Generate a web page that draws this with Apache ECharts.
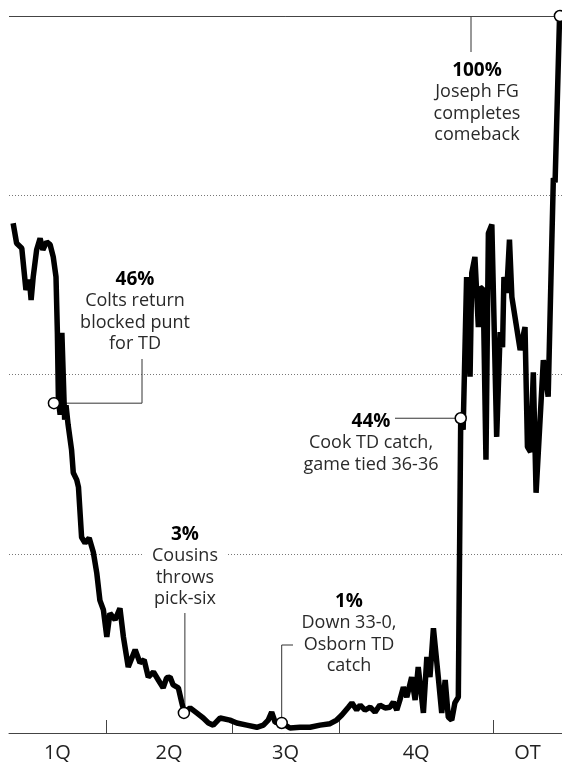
<!DOCTYPE html>
<html><head><meta charset="utf-8">
<script src="https://cdn.jsdelivr.net/npm/echarts@6/dist/echarts.min.js"></script>
<style>html,body{margin:0;padding:0;background:#fff}#c{width:562px;height:764px}</style>
</head><body><div id="c"></div>
<script>
// game progress (play index along the game) and Vikings win probability (%)
const progress = [1.2,2.2,3.7,4.9,5.9,6.4,7.0,8.0,9.0,9.8,10.9,11.9,12.8,13.6,14.0,14.3,14.8,15.3,16.1,16.5,17.1,18.1,18.6,19.6,20.1,21.0,22.0,23.2,24.4,25.4,26.3,27.3,28.3,29.2,30.7,32.1,33.1,34.5,36.5,37.9,39.1,40.3,41.8,43.2,44.6,45.6,46.6,47.5,49.0,50.0,50.7,52.4,54.3,56.2,57.7,59.1,61.1,63.9,65.9,68.8,71.7,73.6,75.0,76.0,77.0,78.9,81.3,84.2,87.1,90.0,92.9,94.8,96.3,98.2,99.2,100.6,101.6,103.0,104.5,105.9,107.3,108.8,110.2,111.2,112.2,113.1,114.1,115.1,116.5,117.5,118.4,119.9,120.9,121.8,122.8,124.2,125.2,126.2,127.1,128.1,129.0,130.0,130.7,131.4,132.4,133.4,133.9,134.8,135.8,136.3,137.2,138.0,138.7,139.7,141.1,142.1,142.8,143.2,144.0,144.8,145.5,147.9,149.3,150.0,150.9,151.7,152.5,154.6,156.0,157.0,157.5,158.0,159.3];
const winProb = [71.1,68.3,67.6,61.8,63.2,60.4,63.6,67.4,69.0,67.4,68.5,68.1,66.4,63.6,55.8,46.4,44.4,55.8,43.7,45.7,43.0,39.5,36.3,35.3,34.3,27.3,26.5,27.2,25.2,22.3,18.5,17.2,13.4,16.7,15.8,17.4,13.4,9.2,11.6,9.8,10.2,7.8,8.5,7.4,6.3,7.7,7.8,6.7,6.3,4.2,2.9,3.5,2.8,2.1,1.4,1.1,2.1,1.8,1.4,1.1,0.8,1.1,1.8,2.9,1.5,1.4,0.7,0.8,0.8,1.1,1.3,1.8,2.5,3.6,4.2,3.2,3.9,3.2,3.6,2.9,3.9,3.5,3.6,4.3,3.2,4.6,6.4,5.0,7.8,4.6,9.2,2.8,10.6,7.8,14.6,7.8,2.8,7.4,2.2,1.8,4.2,5.0,43.9,42.3,63.6,49.7,64.2,66.4,56.6,62.2,61.8,38.1,69.7,70.9,41.3,55.9,53.8,63.6,61.4,68.8,60.8,53.4,56.6,39.9,39.2,50.3,33.5,52.0,46.9,67.4,77.4,76.8,100];

const quarterBreaks = [28.1, 64.5, 95.5, 140.0];
const quarterMids = [14.0, 46.3, 80.0, 117.8, 150.0];
const quarterLabels = ['1Q', '2Q', '3Q', '4Q', 'OT'];

const annotX = [13.0, 50.6, 78.9, 130.7, 159.4];
const annotProb = [46.0, 2.8, 1.4, 43.9, 100];
const annotValue = ['46%', '3%', '1%', '44%', '100%'];
const annotText = [
  ['Colts return', 'blocked punt', 'for TD'],
  ['Cousins', 'throws', 'pick-six'],
  ['Down 33-0,', 'Osborn TD', 'catch'],
  ['Cook TD catch,', 'game tied 36-36'],
  ['Joseph FG', 'completes', 'comeback']
];

const FONT = '"Open Sans", "Noto Sans", sans-serif';
const chart = echarts.init(document.getElementById('c'), null, {renderer: 'canvas'});

chart.setOption({
  animation: false,
  grid: {left: 9, right: 0, top: 16, bottom: 31, containLabel: false, outerBoundsMode: 'none'},
  xAxis: {
    type: 'value', min: 0, max: 160,
    axisLine: {show: true, lineStyle: {color: '#444', width: 1}},
    axisTick: {show: true, inside: true, length: 13, customValues: quarterBreaks, lineStyle: {color: '#444', width: 1}},
    axisLabel: {
      show: true, customValues: quarterMids, margin: 10,
      fontFamily: FONT, fontSize: 20, color: '#222',
      formatter: function (v) {
        let best = 0;
        quarterMids.forEach(function (m, i) { if (Math.abs(m - v) < Math.abs(quarterMids[best] - v)) best = i; });
        return quarterLabels[best];
      }
    },
    splitLine: {show: false}
  },
  yAxis: {
    type: 'value', min: 0, max: 100, interval: 25,
    axisLine: {show: false}, axisTick: {show: false}, axisLabel: {show: false},
    splitLine: {show: true, lineStyle: {color: '#777', width: 1, type: [1, 2]}}
  },
  series: [
    {
      type: 'line', data: progress.map(function (x, i) { return [x, winProb[i]]; }),
      showSymbol: false, clip: false, z: 3,
      lineStyle: {color: '#000', width: 5.5, join: 'bevel'},
      markLine: {
        silent: true, symbol: 'none', label: {show: false},
        lineStyle: {color: '#444', width: 1, type: 'solid'},
        data: [{yAxis: 100}]
      }
    },
    {
      type: 'scatter', data: annotX.map(function (x, i) { return [x, annotProb[i]]; }),
      symbol: 'circle', symbolSize: 11, z: 5, clip: false,
      itemStyle: {color: '#fff', borderColor: '#000', borderWidth: 1.5, opacity: 1}
    }
  ]
});

// annotation layout (pixels for text blocks and leader ends)
const textPos = [[135, 269], [185, 524], [349, 591], [371, 411], [477, 60]];
const p = annotX.map(function (x, i) { return chart.convertToPixel({gridIndex: 0}, [x, annotProb[i]]); });
const leaders = [
  [[p[0][0] + 5, p[0][1]], [142, p[0][1]], [142, 359]],
  [[p[1][0] + 1, p[1][1] - 5], [p[1][0] + 1, 613]],
  [[p[2][0], p[2][1] - 5], [p[2][0], 645], [293, 645]],
  [[p[3][0] - 5, p[3][1]], [395, p[3][1]]],
  [[471, 16], [471, 52]]
];

const graphics = [];
leaders.forEach(function (pts) {
  graphics.push({type: 'polyline', z: 2, shape: {points: pts}, style: {stroke: '#333', lineWidth: 1, fill: null}});
});
annotText.forEach(function (lines, i) {
  graphics.push({
    type: 'text', x: textPos[i][0], y: textPos[i][1], z: 4,
    style: {
      text: '{b|' + annotValue[i] + '}\n' + lines.join('\n'),
      fill: '#2a2a2a', fontFamily: FONT, fontSize: 18, lineHeight: 21.5,
      align: 'center', verticalAlign: 'top',
      backgroundColor: i === 1 ? '#fff' : null,
      padding: i === 1 ? [0, 8] : 0,
      rich: {b: {fontFamily: FONT, fontSize: 19, fontWeight: 'bold', fill: '#000', lineHeight: 21.5}}
    }
  });
});
chart.setOption({graphic: graphics});
</script></body></html>
